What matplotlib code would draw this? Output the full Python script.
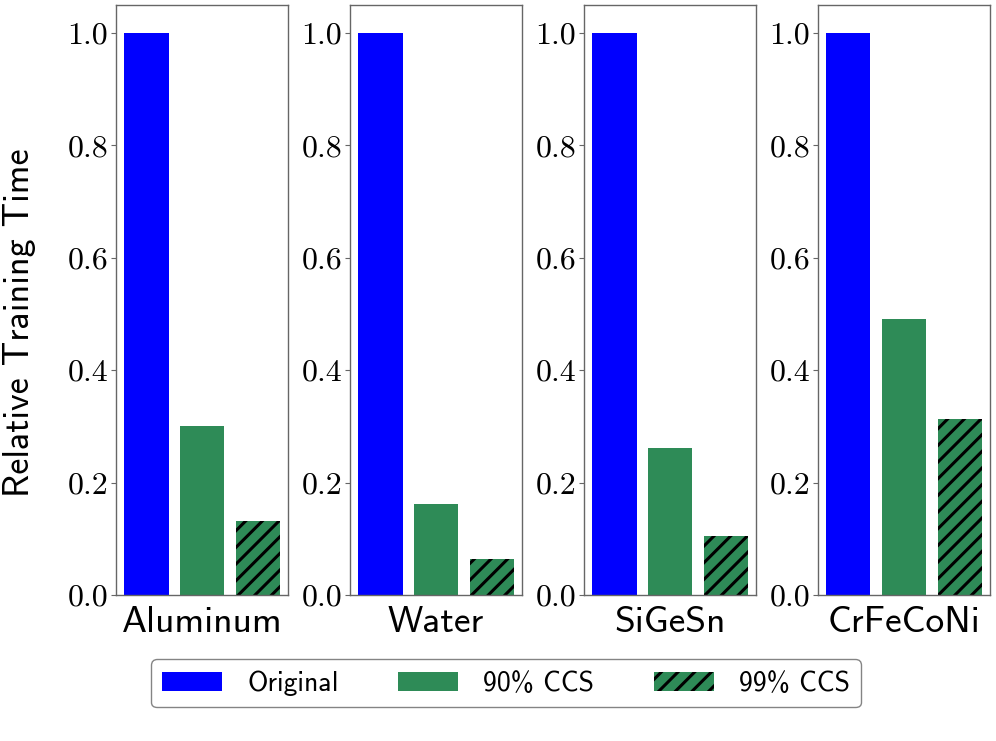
import numpy as np
import matplotlib
matplotlib.use('Agg')
import matplotlib.pyplot as plt
from matplotlib.patches import Patch

materials = ['Aluminum', 'Water', 'SiGeSn', 'CrFeCoNi']
original = [1.0, 1.0, 1.0, 1.0]
ccs90 = [0.301, 0.162, 0.262, 0.491]
ccs99 = [0.132, 0.064, 0.105, 0.313]
yticks = [0.0, 0.2, 0.4, 0.6, 0.8, 1.0]

blue = '#0000ff'
green = '#2e8b57'

plt.rcParams['hatch.linewidth'] = 2.2
plt.rcParams['font.family'] = 'cmss10'
plt.rcParams['axes.unicode_minus'] = False

fig, axes = plt.subplots(1, 4, figsize=(9.96, 7.41), dpi=100)
fig.subplots_adjust(left=0.1165, right=0.994, top=0.9935, bottom=0.197, wspace=0.36)

for i, ax in enumerate(axes):
    ax.bar(0, original[i], width=0.8, color=blue)
    ax.bar(1, ccs90[i], width=0.8, color=green)
    ax.bar(2, ccs99[i], width=0.8, color=green, hatch='//', edgecolor='black', linewidth=0)
    ax.set_ylim(0, 1.05)
    ax.set_xticks([])
    ax.set_yticks(yticks)
    ax.set_yticklabels(['%.1f' % t for t in yticks], fontfamily='cmr10', fontsize=23)
    ax.tick_params(axis='y', color='#666666', length=3.5, pad=2)
    ax.set_xlabel(materials[i], fontsize=27, labelpad=8)
    for s in ax.spines.values():
        s.set_color('#666666')
        s.set_linewidth(1.0)

fig.text(0.003, 0.564, 'Relative Training Time', fontsize=26, rotation=90,
         ha='left', va='center')

handles = [Patch(facecolor=blue, label='Original'),
           Patch(facecolor=green, label='90% CCS'),
           Patch(facecolor=green, edgecolor='black', hatch='//', linewidth=0, label='99% CCS')]
leg = fig.legend(handles=handles, loc='lower center', bbox_to_anchor=(0.508, 0.027), ncol=3,
                 fontsize=20, handlelength=2.15, columnspacing=2.15, handletextpad=0.9,
                 fancybox=True, edgecolor='#666666')
leg.get_frame().set_linewidth(1.0)

fig.savefig('out.png', dpi=100)
